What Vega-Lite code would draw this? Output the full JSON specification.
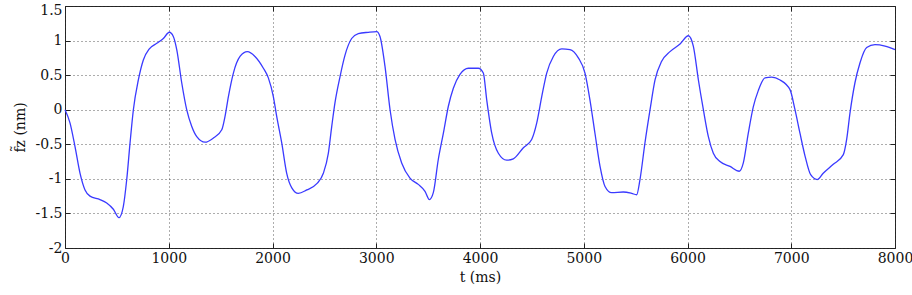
{
  "$schema": "https://vega.github.io/schema/vega-lite/v6.json",
  "width": 830,
  "height": 242,
  "autosize": "none",
  "padding": {"left": 65, "top": 6, "right": 17, "bottom": 47},
  "background": "white",
  "config": {
    "font": "DejaVu Serif",
    "view": {"stroke": "#222", "strokeWidth": 1},
    "axis": {
      "labelFont": "DejaVu Serif",
      "titleFont": "DejaVu Serif",
      "labelFontSize": 14,
      "titleFontSize": 14,
      "labelColor": "#111",
      "titleColor": "#111",
      "titleFontWeight": "normal",
      "domain": false,
      "tickColor": "#222",
      "tickSize": -5,
      "gridColor": "#333",
      "gridDash": [1, 3],
      "gridWidth": 1,
      "gridOpacity": 0.8
    }
  },
  "data": {
    "values": [
      {"t": 0, "v": 0}, {"t": 48, "v": -0.19}, {"t": 96, "v": -0.53}, {"t": 145, "v": -0.92},
      {"t": 193, "v": -1.16}, {"t": 241, "v": -1.25}, {"t": 337, "v": -1.3}, {"t": 402, "v": -1.35},
      {"t": 466, "v": -1.44}, {"t": 520, "v": -1.56}, {"t": 562, "v": -1.4}, {"t": 595, "v": -1.01},
      {"t": 627, "v": -0.48}, {"t": 659, "v": 0}, {"t": 707, "v": 0.43}, {"t": 755, "v": 0.72},
      {"t": 813, "v": 0.88}, {"t": 884, "v": 0.96}, {"t": 948, "v": 1.03}, {"t": 1006, "v": 1.12},
      {"t": 1044, "v": 1.06}, {"t": 1077, "v": 0.87}, {"t": 1125, "v": 0.39}, {"t": 1173, "v": 0},
      {"t": 1221, "v": -0.24}, {"t": 1270, "v": -0.39}, {"t": 1350, "v": -0.47}, {"t": 1430, "v": -0.41},
      {"t": 1511, "v": -0.29}, {"t": 1542, "v": -0.1}, {"t": 1575, "v": 0.19}, {"t": 1623, "v": 0.53},
      {"t": 1687, "v": 0.77}, {"t": 1758, "v": 0.84}, {"t": 1831, "v": 0.77}, {"t": 1912, "v": 0.6},
      {"t": 1960, "v": 0.46}, {"t": 2008, "v": 0.19}, {"t": 2041, "v": -0.1}, {"t": 2089, "v": -0.48},
      {"t": 2137, "v": -0.92}, {"t": 2186, "v": -1.13}, {"t": 2249, "v": -1.21}, {"t": 2330, "v": -1.16},
      {"t": 2427, "v": -1.07}, {"t": 2490, "v": -0.92}, {"t": 2538, "v": -0.63}, {"t": 2571, "v": -0.24},
      {"t": 2602, "v": 0.1}, {"t": 2651, "v": 0.48}, {"t": 2699, "v": 0.79}, {"t": 2763, "v": 1.03},
      {"t": 2827, "v": 1.1}, {"t": 2923, "v": 1.12}, {"t": 3004, "v": 1.13}, {"t": 3036, "v": 1.06},
      {"t": 3084, "v": 0.63}, {"t": 3133, "v": 0}, {"t": 3181, "v": -0.43}, {"t": 3245, "v": -0.77},
      {"t": 3325, "v": -0.99}, {"t": 3405, "v": -1.08}, {"t": 3470, "v": -1.18}, {"t": 3512, "v": -1.3},
      {"t": 3550, "v": -1.2}, {"t": 3598, "v": -0.72}, {"t": 3647, "v": -0.34}, {"t": 3695, "v": 0.05},
      {"t": 3743, "v": 0.31}, {"t": 3807, "v": 0.51}, {"t": 3888, "v": 0.6}, {"t": 3984, "v": 0.6},
      {"t": 4032, "v": 0.53}, {"t": 4065, "v": 0.14}, {"t": 4113, "v": -0.34}, {"t": 4177, "v": -0.63},
      {"t": 4257, "v": -0.73}, {"t": 4321, "v": -0.71}, {"t": 4418, "v": -0.55}, {"t": 4498, "v": -0.43},
      {"t": 4547, "v": -0.19}, {"t": 4595, "v": 0.19}, {"t": 4643, "v": 0.53}, {"t": 4707, "v": 0.77},
      {"t": 4788, "v": 0.88}, {"t": 4867, "v": 0.87}, {"t": 4948, "v": 0.75}, {"t": 5012, "v": 0.53},
      {"t": 5060, "v": 0.14}, {"t": 5108, "v": -0.34}, {"t": 5157, "v": -0.82}, {"t": 5205, "v": -1.11},
      {"t": 5269, "v": -1.2}, {"t": 5381, "v": -1.19}, {"t": 5462, "v": -1.21}, {"t": 5510, "v": -1.23},
      {"t": 5542, "v": -1.01}, {"t": 5590, "v": -0.48}, {"t": 5639, "v": 0}, {"t": 5687, "v": 0.43},
      {"t": 5751, "v": 0.7}, {"t": 5831, "v": 0.84}, {"t": 5928, "v": 0.95}, {"t": 6008, "v": 1.07},
      {"t": 6056, "v": 0.92}, {"t": 6105, "v": 0.43}, {"t": 6153, "v": 0}, {"t": 6201, "v": -0.39},
      {"t": 6249, "v": -0.63}, {"t": 6313, "v": -0.75}, {"t": 6410, "v": -0.82}, {"t": 6499, "v": -0.89},
      {"t": 6538, "v": -0.77}, {"t": 6586, "v": -0.34}, {"t": 6634, "v": 0.04}, {"t": 6683, "v": 0.28},
      {"t": 6747, "v": 0.46}, {"t": 6811, "v": 0.47}, {"t": 6892, "v": 0.43}, {"t": 6988, "v": 0.29},
      {"t": 7036, "v": 0}, {"t": 7084, "v": -0.34}, {"t": 7133, "v": -0.67}, {"t": 7187, "v": -0.94},
      {"t": 7251, "v": -1.01}, {"t": 7308, "v": -0.92}, {"t": 7405, "v": -0.79}, {"t": 7502, "v": -0.65},
      {"t": 7534, "v": -0.43}, {"t": 7566, "v": -0.05}, {"t": 7614, "v": 0.39}, {"t": 7663, "v": 0.68},
      {"t": 7727, "v": 0.9}, {"t": 7807, "v": 0.94}, {"t": 7904, "v": 0.92}, {"t": 8000, "v": 0.87}
    ]
  },
  "layer": [
    {
      "mark": {"type": "line", "color": "#3a3aff", "strokeWidth": 1.3, "interpolate": "monotone"},
      "encoding": {
        "x": {
          "field": "t", "type": "quantitative",
          "scale": {"domain": [0, 8000], "nice": false},
          "axis": {"values": [0, 1000, 2000, 3000, 4000, 5000, 6000, 7000, 8000], "labelExpr": "toString(datum.value)", "title": "t (ms)", "labelPadding": 8, "titlePadding": 5, "labelFlush": false}
        },
        "y": {
          "field": "v", "type": "quantitative",
          "scale": {"domain": [-2, 1.5], "nice": false, "zero": false},
          "axis": {"values": [-2, -1.5, -1, -0.5, 0, 0.5, 1, 1.5], "labelExpr": "toString(datum.value)", "labelOffset": {"condition": {"test": "datum.value == 1.5", "value": 4}, "value": 0}, "title": "f̃z (nm)", "labelPadding": 8, "titlePadding": 8, "labelFlush": false}
        }
      }
    },
    {
      "mark": {"type": "line", "opacity": 0},
      "encoding": {
        "x": {
          "field": "t", "type": "quantitative",
          "axis": {"orient": "top", "values": [0, 1000, 2000, 3000, 4000, 5000, 6000, 7000, 8000], "labels": false, "grid": false, "title": null}
        },
        "y": {
          "field": "v", "type": "quantitative",
          "axis": {"orient": "right", "values": [-2, -1.5, -1, -0.5, 0, 0.5, 1, 1.5], "labels": false, "grid": false, "title": null}
        }
      }
    }
  ],
  "resolve": {"axis": {"x": "independent", "y": "independent"}}
}
